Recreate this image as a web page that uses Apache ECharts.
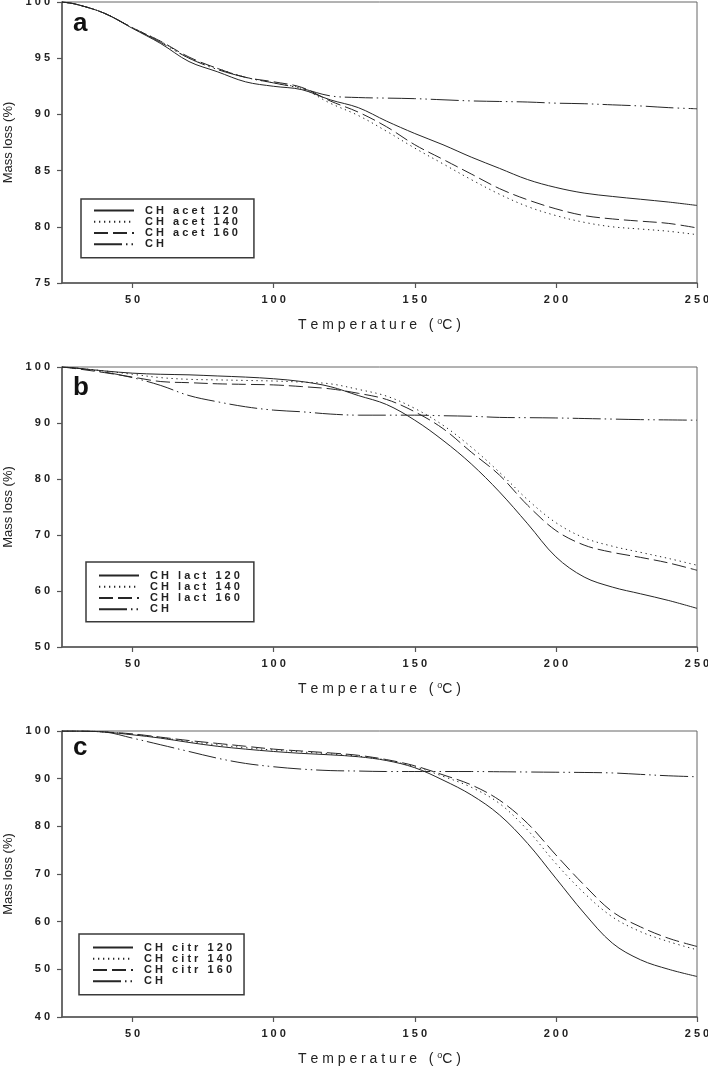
<!DOCTYPE html>
<html><head><meta charset="utf-8">
<script src="https://cdn.jsdelivr.net/npm/echarts@6/dist/echarts.min.js"></script>
<style>html,body{margin:0;padding:0;background:#fff}#c{width:708px;height:1067px}</style>
</head><body><div id="c"></div>
<script>
// ---- data ----
const temps = [25,30,40,50,60,70,80,90,100,110,120,130,140,150,160,170,180,190,200,210,220,230,240,250];
const xTicks = [50,100,150,200,250];
const yTicksA = [75,80,85,90,95,100];
const yTicksB = [50,60,70,80,90,100];
const yTicksC = [40,50,60,70,80,90,100];

const namesA = ['CH acet 120','CH acet 140','CH acet 160','CH'];
const namesB = ['CH lact 120','CH lact 140','CH lact 160','CH'];
const namesC = ['CH citr 120','CH citr 140','CH citr 160','CH'];

const acet120 = [100,99.8,99.0,97.65,96.3,94.7,93.8,92.9,92.5,92.2,91.3,90.6,89.4,88.3,87.3,86.2,85.2,84.2,83.5,83.0,82.7,82.45,82.2,81.9];
const acet140 = [100,99.8,99.0,97.7,96.5,95.0,94.1,93.3,92.8,92.3,91.0,89.9,88.5,87.0,85.6,84.2,82.9,81.8,81.0,80.4,80.0,79.8,79.6,79.3];
const acet160 = [100,99.8,99.0,97.7,96.5,95.1,94.1,93.3,92.9,92.4,91.2,90.2,88.9,87.3,86.0,84.7,83.4,82.4,81.6,81.0,80.7,80.5,80.3,79.9];
const chA     = [100,99.8,99.0,97.7,96.4,95.0,94.0,93.3,92.8,92.3,91.65,91.5,91.45,91.4,91.3,91.2,91.15,91.1,91.0,90.95,90.85,90.75,90.6,90.5];

const lact120 = [100,99.8,99.3,98.9,98.7,98.6,98.4,98.2,97.9,97.4,96.5,94.9,93.3,90.5,86.9,82.7,77.7,72.0,66.1,62.5,60.7,59.5,58.3,56.9];
const lact140 = [100,99.8,99.3,98.7,98.1,97.8,97.7,97.6,97.5,97.3,97.0,96.0,94.8,92.6,89.6,85.7,81.2,76.3,72.2,69.5,68.0,66.9,65.8,64.6];
const lact160 = [100,99.7,99.0,98.2,97.4,97.2,97.0,96.9,96.8,96.5,96.1,95.3,94.2,92.0,89.0,84.8,80.7,75.3,70.8,68.2,66.9,66.0,65.0,63.7];
const chB     = [100,99.8,99.1,98.1,96.7,94.9,93.8,92.9,92.3,92.0,91.6,91.4,91.4,91.4,91.3,91.2,91.0,90.95,90.9,90.8,90.7,90.6,90.55,90.5];

const citr120 = [100,100,99.8,99.2,98.5,97.6,96.8,96.2,95.7,95.3,95.0,94.6,93.8,92.3,89.7,86.6,82.4,76.4,69.1,61.8,55.5,52.0,50.0,48.5];
const citr140 = [100,100,99.8,99.3,98.6,97.8,97.1,96.5,96.0,95.6,95.2,94.7,93.9,92.5,90.5,88.2,84.8,79.2,72.2,66.0,61.0,57.9,55.8,54.1];
const citr160 = [100,100,99.8,99.4,98.7,98.0,97.4,96.8,96.2,95.8,95.4,94.9,94.0,92.7,90.8,88.7,85.5,80.6,74.0,67.7,62.1,58.9,56.5,54.8];
const chC     = [100,100,99.8,98.5,97.1,95.7,94.3,93.2,92.5,92.0,91.7,91.6,91.5,91.5,91.5,91.5,91.45,91.4,91.35,91.3,91.2,90.9,90.6,90.4];

const panelLetters = ['a','b','c'];

// ---- styling ----
const LINE = '#262626';
const AX = '#555';
const styles = [
  {type:'solid'},
  {type:[1.3,3.7]},
  {type:[14,5]},
  {type:[28,4,1.5,4,1.5,4]}
];
const spaced = s => s.split(' ').map(w => w.split('').join(' ')).join('   ');

const grids = [
  {left:62, right:11, top:2, height:281},
  {left:62, right:11, top:367, height:280},
  {left:62, right:11, top:731, height:286}
];
const yTickSets = [yTicksA, yTicksB, yTicksC];
const nameSets = [namesA, namesB, namesC];
const dataSets = [[acet120,acet140,acet160,chA],[lact120,lact140,lact160,chB],[citr120,citr140,citr160,chC]];

const labelFont = {fontFamily:'Liberation Sans', fontWeight:'bold', fontSize:11, color:'#222'};

const xAxes = grids.map((g,i)=>({
  type:'value', gridIndex:i, min:25, max:250,
  name:'{n|T e m p e r a t u r e   ( }{s|o}{n|C )}',
  nameLocation:'middle', nameGap:34,
  nameTextStyle:{rich:{
    n:{fontFamily:'Liberation Sans', fontSize:14, color:'#222', lineHeight:16},
    s:{fontFamily:'Liberation Sans', fontSize:9, color:'#222', lineHeight:10, verticalAlign:'top'}
  }},
  axisLine:{show:true, onZero:false, lineStyle:{color:AX, width:1.5}},
  axisTick:{show:true, length:5, customValues:xTicks, lineStyle:{color:AX, width:1.2}},
  axisLabel:Object.assign({margin:11, customValues:xTicks, formatter:v=>String(v).split('').join(' ')}, labelFont),
  splitLine:{show:false}
}));
const yAxes = grids.map((g,i)=>{
  const t = yTickSets[i];
  return {
    type:'value', gridIndex:i, min:t[0], max:t[t.length-1],
    name:'Mass loss (%)', nameLocation:'middle', nameGap:46,
    nameTextStyle:{fontFamily:'Liberation Sans', fontSize:13, color:'#222'},
    axisLine:{show:true, onZero:false, lineStyle:{color:AX, width:1.5}},
    axisTick:{show:true, length:5, customValues:t, lineStyle:{color:AX, width:1.2}},
    axisLabel:Object.assign({margin:12, customValues:t, formatter:v=>String(v).split('').join(' ')}, labelFont),
    splitLine:{show:false}
  };
});

const series = [];
dataSets.forEach((set,i)=>{
  set.forEach((vals,k)=>{
    series.push({
      type:'line', name:nameSets[i][k], xAxisIndex:i, yAxisIndex:i,
      data: temps.map((t,j)=>[t, vals[j]]),
      showSymbol:false, symbol:'none', smooth:0.35,
      lineStyle:Object.assign({color:LINE, width:1}, styles[k]),
      itemStyle:{color:LINE}, silent:true, z:3
    });
  });
});

const legendBoxes = [
  {left:81, top:199, padding:[6,16,8,12]},
  {left:86, top:562, padding:[8,14,7,12]},
  {left:79, top:934, padding:[8,12,8,13]}
];
const legends = legendBoxes.map((b,i)=>({
  left:b.left, top:b.top, padding:b.padding, orient:'vertical',
  itemWidth:40, itemHeight:14, itemGap:0,
  borderColor:'#3a3a3a', borderWidth:1.5, backgroundColor:'#fff',
  selectedMode:false,
  itemStyle:{opacity:0, color:'rgba(0,0,0,0)', borderWidth:0},
  data: nameSets[i],
  formatter: spaced,
  textStyle:{fontFamily:'Liberation Sans', fontWeight:'bold', fontSize:11, color:'#222', padding:[0,0,0,6]}
}));

const letterY = [24, 388, 748];
const graphic = panelLetters.map((L,i)=>({
  type:'text', x:73, y:letterY[i], z:10,
  style:{text:L, font:'bold 26px "Liberation Sans"', fill:'#111', verticalAlign:'middle'}
}));

const chart = echarts.init(document.getElementById('c'), null, {renderer:'canvas'});
chart.setOption({
  animation:false,
  backgroundColor:'#fff',
  grid: grids.map(g=>Object.assign({show:true, borderColor:'#666', borderWidth:1, backgroundColor:'transparent', outerBoundsMode:'none', containLabel:false}, g)),
  xAxis:xAxes, yAxis:yAxes, legend:legends, series:series, graphic:graphic
});
</script></body></html>
